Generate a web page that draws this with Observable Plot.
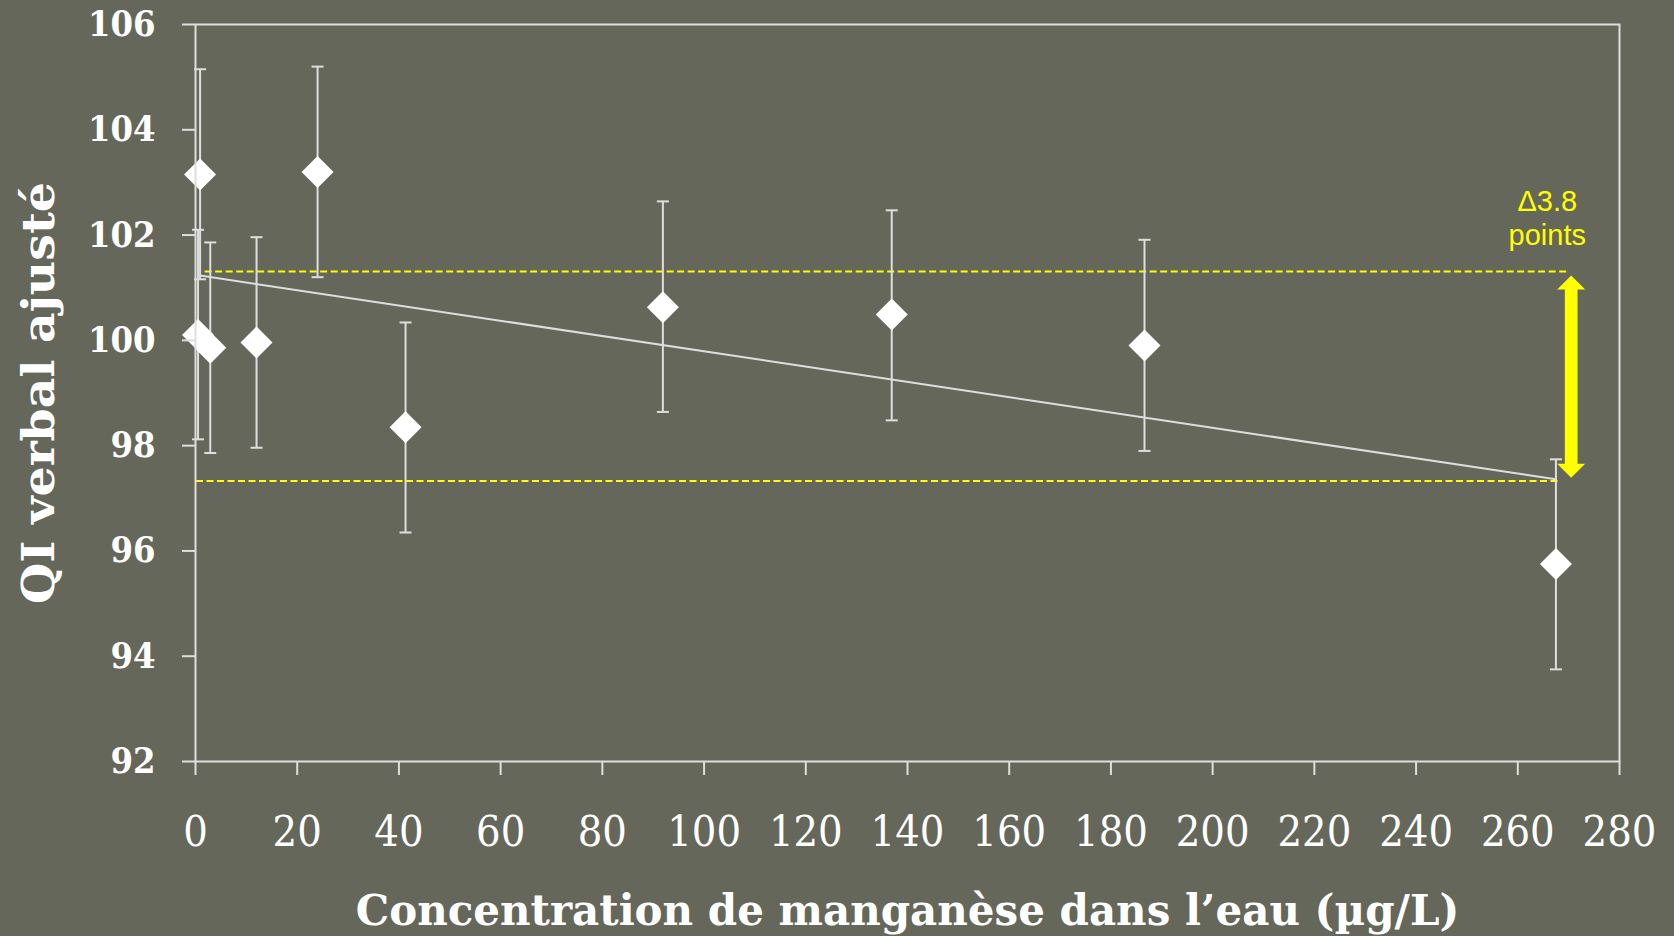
<!DOCTYPE html>
<html>
<head>
<meta charset="utf-8">
<script src="https://cdn.jsdelivr.net/npm/d3@7"></script>
<script src="https://cdn.jsdelivr.net/npm/@observablehq/plot@0.6"></script>
<style>
  html, body { margin: 0; padding: 0; background: #65675a; }
  #chart svg { display: block; }
</style>
</head>
<body>
<div id="chart"></div>
<script>
// ---- data ----
const concentration = [0.5, 0.9, 2.9, 12, 24, 41.3, 91.9, 136.9, 186.6, 267.5];
const qiVerbal      = [100.1, 103.15, 99.86, 99.96, 103.2, 98.35, 100.63, 100.49, 99.9, 95.75];
const ciLower       = [98.12, 101.16, 97.86, 97.96, 101.2, 96.35, 98.64, 98.48, 97.9, 93.75];
const ciUpper       = [102.1, 105.15, 101.86, 101.96, 105.2, 100.34, 102.64, 102.47, 101.91, 97.74];

const trendX = [0.9, 267.5];
const trendY = [101.23, 97.36];

const refLevels = [101.31, 97.33];
const refStart  = [1.9, 0.2];
const refEnd    = [270, 268.3];

const arrowX = [270.5];
const arrowTop = [101.23];
const arrowBottom = [97.39];

const annotX = [265.8];
const annotY = [102.34];
const annotText = ["Δ3.8\npoints"];

const xTicks = d3.range(0, 281, 20);
const yTicks = d3.range(92, 107, 2);

const xLabel = "Concentration de manganèse dans l’eau (µg/L)";
const yLabel = "QI verbal ajusté";

// ---- tables ----
const points = concentration.map((x, i) => ({x, y: qiVerbal[i], lo: ciLower[i], hi: ciUpper[i]}));
const trend = trendX.map((x, i) => ({x, y: trendY[i]}));
const refs = refLevels.map((y, i) => ({y, x1: refStart[i], x2: refEnd[i]}));
const arrow = arrowX.map((x, i) => ({x, top: arrowTop[i], bottom: arrowBottom[i]}));
const annot = annotX.map((x, i) => ({x, y: annotY[i], text: annotText[i]}));

// ---- custom symbols ----
const diamond = {draw(c) { c.moveTo(0, -16); c.lineTo(16, 0); c.lineTo(0, 16); c.lineTo(-16, 0); c.closePath(); }};
const cap = {draw(c) { c.moveTo(-6, 0); c.lineTo(6, 0); }};
const headUp = {draw(c) { c.moveTo(0, 0); c.lineTo(14, 14); c.lineTo(-14, 14); c.closePath(); }};
const headDown = {draw(c) { c.moveTo(0, 0); c.lineTo(14, -14); c.lineTo(-14, -14); c.closePath(); }};

const gray = "#dedede";
const yellow = "#ffff00";

const chart = Plot.plot({
  width: 1674,
  height: 936,
  marginLeft: 195,
  marginRight: 55,
  marginTop: 24,
  marginBottom: 175,
  style: {background: "#65675a", color: "white", fontFamily: "DejaVu Serif"},
  x: {domain: [0, 280]},
  y: {domain: [92, 106]},
  marks: [
    Plot.ruleY(refs, {y: "y", x1: "x1", x2: "x2", stroke: yellow, strokeWidth: 2, strokeDasharray: "7,3.5"}),
    Plot.line(trend, {x: "x", y: "y", stroke: gray, strokeWidth: 2}),
    Plot.ruleX(points, {x: "x", y1: "lo", y2: "hi", stroke: gray, strokeWidth: 2}),
    Plot.dot(points, {x: "x", y: "lo", symbol: cap, stroke: gray, strokeWidth: 2, fill: "none"}),
    Plot.dot(points, {x: "x", y: "hi", symbol: cap, stroke: gray, strokeWidth: 2, fill: "none"}),
    Plot.dot(points, {x: "x", y: "y", symbol: diamond, fill: "white", stroke: "none"}),
    Plot.ruleX(arrow, {x: "x", y1: "top", y2: "bottom", stroke: yellow, strokeWidth: 12.7, insetTop: 13, insetBottom: 13}),
    Plot.dot(arrow, {x: "x", y: "top", symbol: headUp, fill: yellow, stroke: "none"}),
    Plot.dot(arrow, {x: "x", y: "bottom", symbol: headDown, fill: yellow, stroke: "none"}),
    Plot.text(annot, {x: "x", y: "y", text: "text", fill: yellow, fontSize: 29, fontFamily: "Liberation Sans", lineHeight: 1.18, textAnchor: "middle"}),
    Plot.frame({stroke: gray, strokeWidth: 2}),
    Plot.axisY({ticks: yTicks, tickSize: 13, tickPadding: 27, stroke: gray, strokeWidth: 2, fill: "white",
      fontSize: 36, fontFamily: "DejaVu Serif Condensed", fontWeight: "bold", label: null}),
    Plot.axisX({ticks: xTicks, tickSize: 14, tickPadding: 40, stroke: gray, strokeWidth: 2, fill: "white",
      fontSize: 43, fontFamily: "DejaVu Serif Condensed", fontWeight: "normal", label: null}),
    Plot.text([yLabel], {frameAnchor: "left", rotate: -90, dx: -156, fill: "white", fontSize: 44,
      fontFamily: "DejaVu Serif", fontWeight: "bold", textAnchor: "middle", lineAnchor: "middle"}),
    Plot.text([xLabel], {frameAnchor: "bottom", dy: 150, fill: "white", fontSize: 42,
      fontFamily: "DejaVu Serif", fontWeight: "bold", textAnchor: "middle", lineAnchor: "middle"})
  ]
});
// stretch the y title to the width it has in the reference
d3.select(chart).selectAll("text")
  .filter(function() { return this.textContent === yLabel; })
  .attr("textLength", 422)
  .attr("lengthAdjust", "spacingAndGlyphs");
document.getElementById("chart").appendChild(chart);
</script>
</body>
</html>
